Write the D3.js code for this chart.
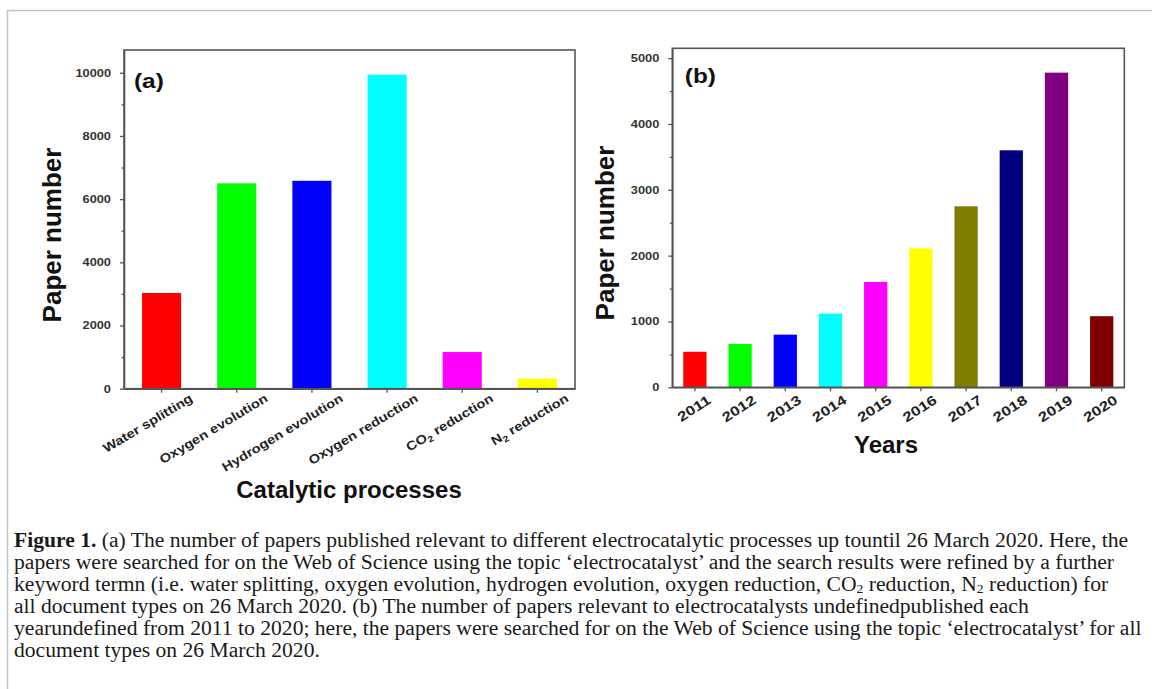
<!DOCTYPE html>
<html>
<head>
<meta charset="utf-8">
<script src="https://cdn.jsdelivr.net/npm/d3@7"></script>
<style>
  body { margin: 0; background: #fff; }
  svg { display: block; }
</style>
</head>
<body>
<svg id="fig" width="1152" height="689"></svg>
<script>
// ---- Panel (a): papers per catalytic process ----
const processes = ["Water splitting", "Oxygen evolution", "Hydrogen evolution", "Oxygen reduction", "CO_2 reduction", "N_2 reduction"];
const processPapers = [3030, 6500, 6580, 9940, 1160, 320];
const processColors = ["#ff0000", "#00ff00", "#0000ff", "#00ffff", "#ff00ff", "#ffff00"];
const processTicks = [0, 2000, 4000, 6000, 8000, 10000];
const processMinorTicks = [1000, 3000, 5000, 7000, 9000];

// ---- Panel (b): papers per year ----
const years = ["2011", "2012", "2013", "2014", "2015", "2016", "2017", "2018", "2019", "2020"];
const yearPapers = [540, 660, 800, 1120, 1600, 2110, 2750, 3600, 4780, 1080];
const yearColors = ["#ff0000", "#00ff00", "#0000ff", "#00ffff", "#ff00ff", "#ffff00", "#808000", "#000080", "#800080", "#800000"];
const yearTicks = [0, 1000, 2000, 3000, 4000, 5000];
const yearMinorTicks = [500, 1500, 2500, 3500, 4500];

// ---- Caption ----
const captionBold = "Figure 1.";
const captionLines = [
  " (a) The number of papers published relevant to different electrocatalytic processes up tountil 26 March 2020. Here, the",
  "papers were searched for on the Web of Science using the topic \u2018electrocatalyst\u2019 and the search results were refined by a further",
  "keyword termn (i.e. water splitting, oxygen evolution, hydrogen evolution, oxygen reduction, CO_2 reduction, N_2 reduction) for",
  "all document types on 26 March 2020. (b) The number of papers relevant to electrocatalysts undefinedpublished each",
  "yearundefined from 2011 to 2020; here, the papers were searched for on the Web of Science using the topic \u2018electrocatalyst\u2019 for all",
  "document types on 26 March 2020."
];

const svg = d3.select("#fig");
const SANS = "'Liberation Sans', Arial, sans-serif";
const SERIF = "'Liberation Serif', 'Times New Roman', serif";
const AXIS_COLOR = "#555";

svg.append("rect").attr("width", 1152).attr("height", 689).attr("fill", "#fff");

// page border (top and left rules)
svg.append("path")
  .attr("d", "M7.5,689 V10.5 H1152")
  .attr("fill", "none")
  .attr("stroke", "#c4c4c4")
  .attr("stroke-width", 1.5);

// writes a string into a text node, turning "_2" into a lowered subscript
function richText(sel, str, subSize, shift) {
  const parts = str.split(/(_\d)/).filter(s => s.length);
  let lowered = false;
  parts.forEach(p => {
    if (p[0] === "_") {
      sel.append("tspan").attr("dy", shift).attr("font-size", subSize).text(p.slice(1));
      lowered = true;
    } else {
      const ts = sel.append("tspan").text(p);
      if (lowered) { ts.attr("dy", -shift); lowered = false; }
    }
  });
}

function drawPanel(cfg) {
  const { left, right, top, bottom } = cfg.box;
  const g = svg.append("g");

  const x = d3.scaleBand()
    .domain(cfg.categories)
    .range([left, right])
    .paddingInner(cfg.pad)
    .paddingOuter(cfg.pad / 2);
  const y = d3.scaleLinear().domain([0, cfg.yMax]).range([bottom, top]);

  // bars
  g.selectAll("rect.bar")
    .data(cfg.values)
    .join("rect")
    .attr("class", "bar")
    .attr("x", (d, i) => x(cfg.categories[i]))
    .attr("width", x.bandwidth())
    .attr("y", d => y(d))
    .attr("height", d => y(0) - y(d))
    .attr("fill", (d, i) => cfg.colors[i]);

  // frame
  g.append("rect")
    .attr("x", left).attr("y", top)
    .attr("width", right - left).attr("height", bottom - top)
    .attr("fill", "none")
    .attr("stroke", AXIS_COLOR)
    .attr("stroke-width", 1.6);

  // y axis: major ticks with labels
  const yAxis = g.append("g")
    .attr("transform", `translate(${left},0)`)
    .call(d3.axisLeft(y).tickValues(cfg.ticks).tickSize(4).tickSizeOuter(0).tickFormat(d3.format("d")));
  yAxis.select(".domain").attr("stroke", AXIS_COLOR).attr("stroke-width", 1.6);
  yAxis.selectAll(".tick line").attr("stroke", AXIS_COLOR).attr("stroke-width", 1.3);
  yAxis.selectAll(".tick text")
    .attr("x", 0)
    .attr("transform", "translate(-13,0) scale(1.22,1)")
    .attr("font-family", SANS)
    .attr("font-weight", "bold")
    .attr("font-size", 10.5)
    .attr("fill", "#333");

  // y axis: minor ticks
  const yMinor = g.append("g")
    .attr("transform", `translate(${left},0)`)
    .call(d3.axisLeft(y).tickValues(cfg.minor).tickSize(2.5).tickSizeOuter(0).tickFormat(""));
  yMinor.select(".domain").remove();
  yMinor.selectAll(".tick line").attr("stroke", AXIS_COLOR).attr("stroke-width", 1.2);

  // x axis ticks
  const xAxis = g.append("g")
    .attr("transform", `translate(0,${bottom})`)
    .call(d3.axisBottom(x).tickSize(4).tickSizeOuter(0).tickFormat(""));
  xAxis.select(".domain").attr("stroke", AXIS_COLOR).attr("stroke-width", 1.6);
  xAxis.selectAll(".tick line").attr("stroke", AXIS_COLOR).attr("stroke-width", 1.3);

  // rotated category labels
  cfg.categories.forEach(c => {
    const cx = x(c) + x.bandwidth() / 2;
    const t = g.append("text")
      .attr("transform", `translate(${cx + cfg.labelDx},${bottom + cfg.labelDy}) rotate(${cfg.labelAngle}) scale(${cfg.labelStretch},1)`)
      .attr("text-anchor", "end")
      .attr("font-family", SANS)
      .attr("font-weight", "bold")
      .attr("font-size", cfg.labelSize)
      .attr("fill", "#222");
    richText(t, c, cfg.labelSize * 0.7, 3);
  });

  // panel tag
  g.append("text")
    .attr("transform", `translate(${left + cfg.tagDx},${top + cfg.tagDy}) scale(1.22,1)`)
    .attr("font-family", SANS)
    .attr("font-weight", "bold")
    .attr("font-size", 20)
    .attr("fill", "#111")
    .text(cfg.tag);

  // axis titles
  g.append("text")
    .attr("transform", `translate(${cfg.yTitleX},${cfg.yTitleY}) rotate(-90)`)
    .attr("text-anchor", "middle")
    .attr("font-family", SANS)
    .attr("font-weight", "bold")
    .attr("font-size", 26)
    .attr("fill", "#111")
    .text(cfg.yTitle);

  g.append("text")
    .attr("x", cfg.xTitleX)
    .attr("y", cfg.xTitleY)
    .attr("text-anchor", "middle")
    .attr("font-family", SANS)
    .attr("font-weight", "bold")
    .attr("font-size", 24)
    .attr("fill", "#111")
    .text(cfg.xTitle);
}

drawPanel({
  box: { left: 124, right: 575, top: 50, bottom: 388.7 },
  categories: processes,
  values: processPapers,
  colors: processColors,
  yMax: 10720,
  ticks: processTicks,
  minor: processMinorTicks,
  pad: 0.48,
  labelDx: 32, labelDy: 12, labelAngle: -31, labelStretch: 1.18, labelSize: 12.5,
  tag: "(a)", tagDx: 10, tagDy: 38,
  yTitle: "Paper number", yTitleX: 61, yTitleY: 235,
  xTitle: "Catalytic processes", xTitleX: 349, xTitleY: 498
});

drawPanel({
  box: { left: 672.3, right: 1124.3, top: 48.3, bottom: 387.3 },
  categories: years,
  values: yearPapers,
  colors: yearColors,
  yMax: 5150,
  ticks: yearTicks,
  minor: yearMinorTicks,
  pad: 0.485,
  labelDx: 17, labelDy: 15, labelAngle: -33, labelStretch: 1.25, labelSize: 13.5,
  tag: "(b)", tagDx: 12.5, tagDy: 35,
  yTitle: "Paper number", yTitleX: 614, yTitleY: 233,
  xTitle: "Years", xTitleX: 886, xTitleY: 453
});

// caption
const cap = svg.append("g")
  .attr("transform", "translate(14,0) scale(1.054,1)")
  .attr("font-family", SERIF)
  .attr("font-size", 20.5)
  .attr("fill", "#1a1a1a");
captionLines.forEach((line, i) => {
  const t = cap.append("text").attr("x", 0).attr("y", 547 + i * 22);
  if (i === 0) t.append("tspan").attr("font-weight", "bold").text(captionBold);
  richText(t, line, 13, 2.5);
});
</script>
</body>
</html>
